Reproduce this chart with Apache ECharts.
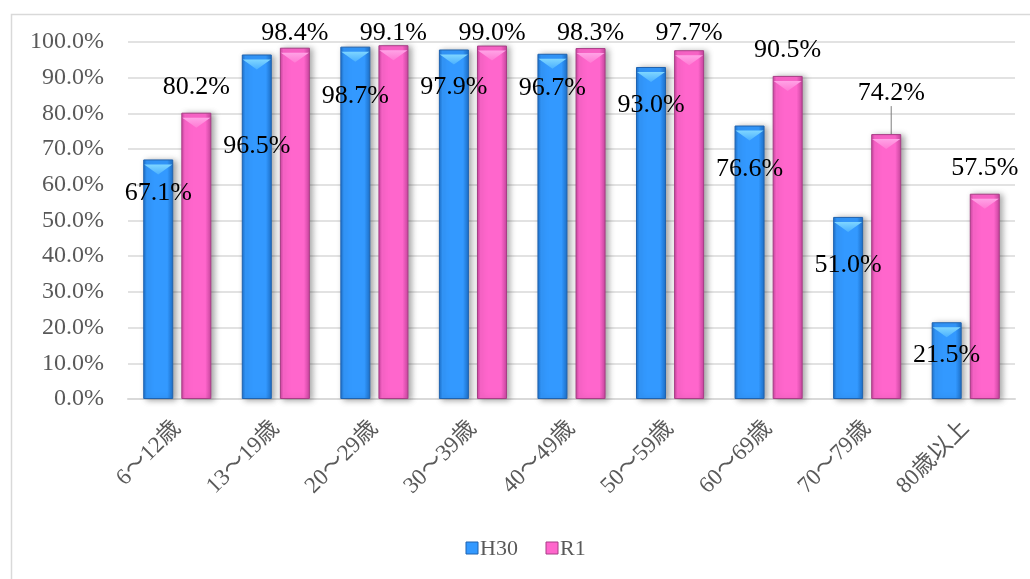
<!DOCTYPE html>
<html>
<head>
<meta charset="utf-8">
<script src="https://cdn.jsdelivr.net/npm/echarts@6/dist/echarts.min.js"></script>
<style>
html,body{margin:0;padding:0;background:#fff;}
#chart{width:1030px;height:579px;}
</style>
</head>
<body>
<div id="chart"></div>
<script>
var categories = ['6～12歳','13～19歳','20～29歳','30～39歳','40～49歳','50～59歳','60～69歳','70～79歳','80歳以上'];
var seriesNames = ['H30','R1'];
var h30 = [67.1, 96.5, 98.7, 97.9, 96.7, 93.0, 76.6, 51.0, 21.5];
var r1 = [80.2, 98.4, 99.1, 99.0, 98.3, 97.7, 90.5, 74.2, 57.5];
var yTicks = [0,10,20,30,40,50,60,70,80,90,100];

// label placement (center offsets relative to bar top), styling only
var h30LabelDy = [34, 92, 50, 38, 34, 38, 44, 48, 33];
var r1LabelDy = [-26, -15, -12, -12, -15, -17, -26, -41, -26];
var r1LabelDx = [0, 0, 0, 0, 0, 0, 0, 5, 0];

var FONT = '"Liberation Serif", "Noto Sans CJK JP", serif';

function grad(edge, mid){
  return {type:'linear',x:0,y:0,x2:1,y2:0,colorStops:[
    {offset:0,color:edge},{offset:0.12,color:mid},{offset:0.8,color:mid},{offset:1,color:edge}]};
}
function vgrad(top, bottom){
  return {type:'linear',x:0,y:0,x2:0,y2:1,colorStops:[{offset:0,color:top},{offset:1,color:bottom}]};
}

var BAR_W = 30, GAP = '27%';
var bevelPath = 'path://M0,0 L30,0 L15,10 Z';

// legend drawn as graphic (icon + real text)
var legendColors = [['#3399ff','#1f63b0'],['#ff66cc','#a83d86']];
var legendX = [466, 546];
var legendGraphics = [];
seriesNames.forEach(function(n,i){
  legendGraphics.push({type:'rect',shape:{x:legendX[i],y:542,width:12,height:12},
    style:{fill:legendColors[i][0],stroke:legendColors[i][1],lineWidth:1},silent:true});
  legendGraphics.push({type:'text',x:legendX[i]+14,y:549,
    style:{text:n,fontFamily:FONT,fontSize:22,fill:'#595959',verticalAlign:'middle',align:'left'},silent:true});
});

var chart = echarts.init(document.getElementById('chart'), null, {renderer:'canvas'});
chart.setOption({
  backgroundColor:'#ffffff',
  animation:false,
  textStyle:{fontFamily:FONT},
  graphic:[{type:'rect',left:9,top:12,shape:{width:1100,height:700},
    style:{fill:'none',stroke:'#d9d9d9',lineWidth:1.5},silent:true,z:-1}].concat(legendGraphics),
  grid:{left:128,right:15,top:42,bottom:180,containLabel:false},
  legend:{show:false,data:seriesNames},
  xAxis:{
    type:'category',data:categories,
    axisLine:{lineStyle:{color:'#d9d9d9',width:2}},
    axisTick:{show:false},
    axisLabel:{rotate:45,margin:26,interval:0,fontFamily:FONT,fontSize:23,color:'#595959'}
  },
  yAxis:{
    type:'value',min:yTicks[0],max:yTicks[yTicks.length-1],interval:10,
    axisLine:{show:false},axisTick:{show:false},
    splitLine:{lineStyle:{color:'#d9d9d9',width:1.5}},
    axisLabel:{margin:24,fontFamily:FONT,fontSize:24,color:'#595959',
      formatter:function(v){return v.toFixed(1)+'%';}}
  },
  series:[
    {
      name:seriesNames[0],type:'bar',data:h30,barWidth:BAR_W,barGap:GAP,
      itemStyle:{color:grad('#1c6fc8','#3399ff'),borderColor:'#1f63b0',borderWidth:1,
        shadowColor:'rgba(0,0,0,0.35)',shadowBlur:6,shadowOffsetX:3,shadowOffsetY:1},
      label:{show:true,position:'top',fontFamily:FONT,fontSize:26,color:'#000',
        formatter:function(p){return p.value.toFixed(1)+'%';}},
      labelLayout:function(p){
        var r=p.rect;
        return {x:r.x+r.width/2,y:r.y+h30LabelDy[p.dataIndex],align:'center',verticalAlign:'middle'};
      },
      z:3
    },
    {
      name:seriesNames[1],type:'bar',barWidth:BAR_W,barGap:GAP,
      data:r1.map(function(v,i){return i===7?{value:v,labelLine:{show:true,lineStyle:{color:'#7f7f7f',width:1}}}:v;}),
      itemStyle:{color:grad('#c8459f','#ff66cc'),borderColor:'#a83d86',borderWidth:1,
        shadowColor:'rgba(0,0,0,0.35)',shadowBlur:6,shadowOffsetX:3,shadowOffsetY:1},
      label:{show:true,position:'top',fontFamily:FONT,fontSize:26,color:'#000',
        formatter:function(p){return p.value.toFixed(1)+'%';}},
      labelLine:{show:false},
      labelLayout:function(p){
        var r=p.rect;
        return {x:r.x+r.width/2+r1LabelDx[p.dataIndex],y:r.y+r1LabelDy[p.dataIndex],align:'center',verticalAlign:'middle'};
      },
      z:2
    },
    {
      name:'bevel-h30',type:'pictorialBar',data:h30,barWidth:BAR_W,barGap:GAP,
      symbol:bevelPath,symbolSize:[BAR_W-2,10],symbolPosition:'end',symbolOffset:[0,'50%'],
      itemStyle:{color:vgrad('#7fd6ff','#4ab0ff')},silent:true,z:4,legendHoverLink:false,tooltip:{show:false}
    },
    {
      name:'bevel-r1',type:'pictorialBar',data:r1,barWidth:BAR_W,barGap:GAP,
      symbol:bevelPath,symbolSize:[BAR_W-2,10],symbolPosition:'end',symbolOffset:[0,'50%'],
      itemStyle:{color:vgrad('#ffa3e6','#ff7ad4')},silent:true,z:4,legendHoverLink:false,tooltip:{show:false}
    }
  ]
});
</script>
</body>
</html>
